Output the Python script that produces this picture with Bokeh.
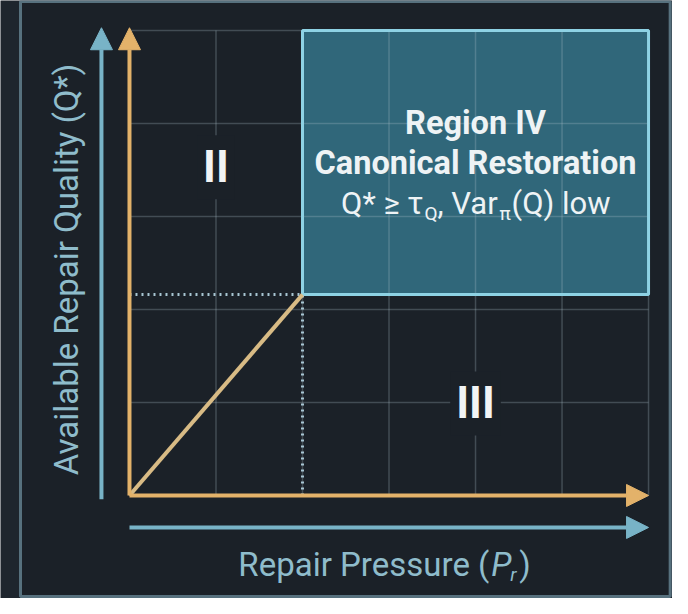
from bokeh.plotting import figure
from bokeh.models import Range1d, Arrow, NormalHead
from bokeh.core.properties import value
from bokeh.embed import file_html
from bokeh.resources import INLINE

# ---- data (conceptual phase diagram, grid units) ----
grid_x = [0, 1, 2, 3, 4, 5, 6]
grid_y = [0, 1, 2, 3, 4, 5]
p_max = 6.0
q_max = 5.0
pressure_threshold = 2.0
quality_threshold = 2.16
region_labels = ["II", "III"]
region_label_x = [1.0, 4.0]
region_label_y = [3.53, 0.99]
region_iv_title = ["Region IV", "Canonical Restoration"]
region_iv_title_y = [4.01, 3.58]
region_iv_cond_y = 3.14
# condition line "Q* ≥ τ_Q, Var_π(Q) low" split into pieces
cond_pieces = ["Q* \u2265 \u03c4", "Q", ", Var", "\u03c0", "(Q) low"]
cond_is_sub = [False, True, False, True, False]
x_axis_label = "Repair Pressure ("
y_axis_label = "Available Repair Quality (Q*)"

# ---- colours ----
BG = "#1e252d"
PANEL = "#1b2128"
FRAME = "#57717e"
GRID = "#aebfcc"
ORANGE = "#e3b26a"
DIAG = "#d8bb85"
BLUE = "#78b3c7"
LABEL = "#8fbccb"
BOX_FILL = "#30677a"
BOX_EDGE = "#8ed2e4"
DOTS = "#a8c6d3"
WHITE = "#eef3f5"
FONT = value("Roboto")

p = figure(width=672, height=598, output_backend="svg", toolbar_location=None,
           x_range=Range1d(-1.491, 6.277), y_range=Range1d(-1.108, 5.323),
           min_border=0)
p.axis.visible = False
p.grid.visible = False
p.outline_line_color = None
p.background_fill_color = BG
p.border_fill_color = BG

# outer panel frame
p.quad(left=[-1.26], right=[6.25], bottom=[-1.086], top=[5.312],
       fill_color=PANEL, line_color=FRAME, line_width=3)

# region IV box fill
p.quad(left=[pressure_threshold], right=[p_max], bottom=[quality_threshold], top=[q_max],
       fill_color=BOX_FILL, line_color=None)

# grid (semi-transparent, visible through the box)
p.segment(x0=grid_x, y0=[0] * len(grid_x), x1=grid_x, y1=[q_max] * len(grid_x),
          line_color=GRID, line_alpha=0.27, line_width=1.5)
p.segment(x0=[0] * len(grid_y), y0=grid_y, x1=[p_max] * len(grid_y), y1=grid_y,
          line_color=GRID, line_alpha=0.27, line_width=1.5)

# region IV box edge
p.quad(left=[pressure_threshold], right=[p_max], bottom=[quality_threshold], top=[q_max],
       fill_color=None, line_color=BOX_EDGE, line_width=3)

# dotted threshold lines
p.line([0, pressure_threshold], [quality_threshold, quality_threshold],
       line_color=DOTS, line_width=3, line_dash="2 4")
p.line([pressure_threshold, pressure_threshold], [0, quality_threshold],
       line_color=DOTS, line_width=3, line_dash="2 4")

# diagonal boundary
p.line([0, pressure_threshold], [0, quality_threshold], line_color=DIAG, line_width=4)

# axes arrows (orange inner, blue outer)
def head(c):
    return NormalHead(size=22, fill_color=c, line_color=c)

p.add_layout(Arrow(x_start=0, y_start=0, x_end=0, y_end=q_max + 0.03,
                   line_color=ORANGE, line_width=4, end=head(ORANGE)))
p.add_layout(Arrow(x_start=0, y_start=0, x_end=p_max, y_end=0,
                   line_color=ORANGE, line_width=4, end=head(ORANGE)))
p.add_layout(Arrow(x_start=-0.324, y_start=-0.04, x_end=-0.324, y_end=q_max + 0.03,
                   line_color=BLUE, line_width=4, end=head(BLUE)))
p.add_layout(Arrow(x_start=0, y_start=-0.344, x_end=p_max, y_end=-0.344,
                   line_color=BLUE, line_width=4, end=head(BLUE)))

# region labels II and III
p.text(x=region_label_x, y=region_label_y, text=region_labels,
       text_font=FONT, text_font_size="44px", text_font_style="bold",
       text_color="#f2f4f5", text_align="center", text_baseline="middle",
       background_fill_color=PANEL, padding=6)

# region IV texts
p.text(x=[4.0, 4.0], y=region_iv_title_y, text=region_iv_title,
       text_font=FONT, text_font_size="32.5px", text_font_style="bold",
       text_color=WHITE, text_align="center", text_baseline="middle")

piece_offsets = [-52, -51, -38, 24, 36]
piece_align = ["right", "left", "left", "left", "left"]
for t, sub, dx, al in zip(cond_pieces, cond_is_sub, piece_offsets, piece_align):
    p.text(x=[4.0], y=[region_iv_cond_y], text=[t], x_offset=dx,
           y_offset=10 if sub else 0,
           text_font=FONT, text_font_size="19px" if sub else "31px",
           text_color=WHITE, text_align=al, text_baseline="middle")

# axis titles
p.text(x=[-0.73], y=[2.43], text=[y_axis_label], angle=1.5708,
       text_font=FONT, text_font_size="33px", text_color=LABEL,
       text_align="center", text_baseline="middle")
p.text(x=[4.16], y=[-0.742], text=[x_axis_label],
       text_font=FONT, text_font_size="33px", text_color=LABEL,
       text_align="right", text_baseline="middle")
p.text(x=[4.16], y=[-0.742], text=["P"], x_offset=2,
       text_font=FONT, text_font_size="33px", text_font_style="italic",
       text_color=LABEL, text_align="left", text_baseline="middle")
p.text(x=[4.16], y=[-0.742], text=["r"], x_offset=21, y_offset=10,
       text_font=FONT, text_font_size="19px", text_font_style="italic",
       text_color=LABEL, text_align="left", text_baseline="middle")
p.text(x=[4.16], y=[-0.742], text=[")"], x_offset=30,
       text_font=FONT, text_font_size="33px",
       text_color=LABEL, text_align="left", text_baseline="middle")

open("out.html", "w").write(file_html(p, INLINE))
